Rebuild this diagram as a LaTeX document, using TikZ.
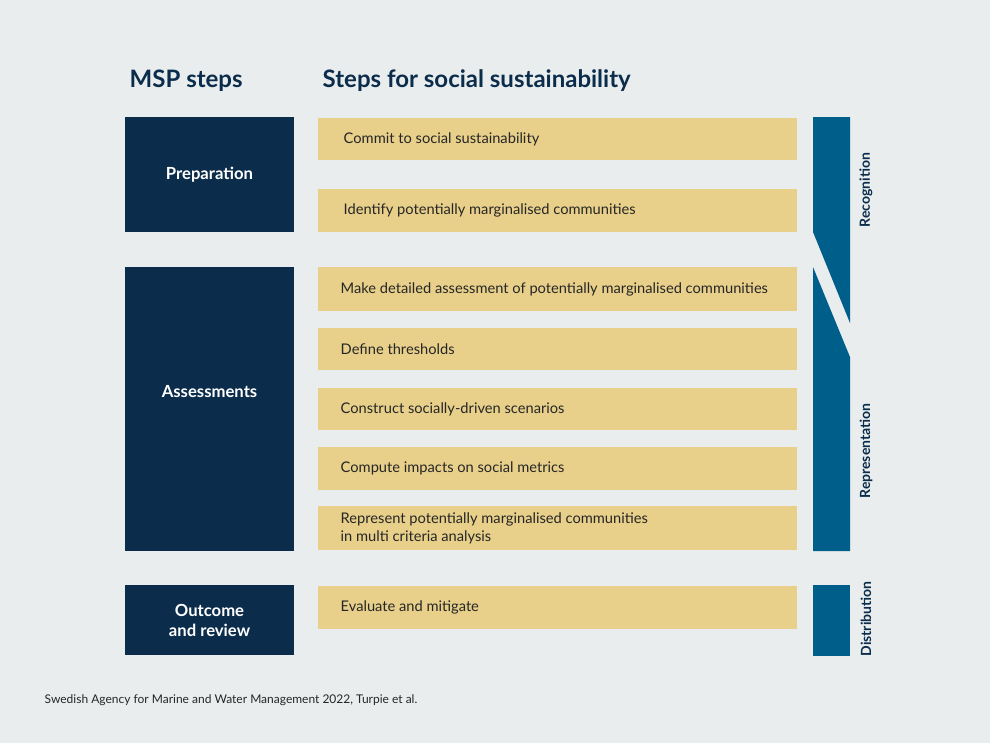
\documentclass[tikz,border=0pt]{standalone}
\usepackage{fontspec}
\setmainfont{Lato}
\definecolor{bg}{HTML}{E9EDEE}
\definecolor{navy}{HTML}{0B2D4B}
\definecolor{sand}{HTML}{E8D08A}
\definecolor{sea}{HTML}{005E8A}
\begin{document}
\begin{tikzpicture}[x=0.75pt,y=-0.75pt,
  msp/.style={fill=navy,draw=none},
  stepbox/.style={fill=sand,draw=none},
  pillar/.style={fill=sea,draw=none},
  steptxt/.style={anchor=west,align=left,font=\fontsize{11}{13.5}\selectfont,text=black!85},
  msptxt/.style={align=center,font=\bfseries\fontsize{12.5}{15}\selectfont,text=white},
  vtxt/.style={rotate=90,font=\bfseries\fontsize{10.5}{12}\selectfont,text=navy},
  head/.style={anchor=base west,font=\bfseries\fontsize{18}{20}\selectfont,text=navy}]
\fill[bg] (0,0) rectangle (990,743);
\useasboundingbox (0,0) rectangle (990,743);
\node[head] (h1) at (125,87) {MSP steps};
\node[head] (h2) at (318,87) {Steps for social sustainability};
% MSP boxes
\fill[msp] (125,117) rectangle (294,232);
\node[msptxt] (p) at (209.5,174.5) {Preparation};
\fill[msp] (125,267) rectangle (294,551);
\node[msptxt] (a) at (209.5,392) {Assessments};
\fill[msp] (125,585) rectangle (294,655);
\node[msptxt] (o) at (209.5,620) {Outcome\\and review};
% step boxes
\foreach \t/\b/\x/\txt [count=\i] in {
 118/160/339/{Commit to social sustainability},
 189/232/339/{Identify potentially marginalised communities},
 267/311/336/{Make detailed assessment of potentially marginalised communities},
 328/370/336/{Define thresholds},
 388/430/336/{Construct socially-driven scenarios},
 447/490/336/{Compute impacts on social metrics},
 506/550/336/{Represent potentially marginalised communities\\in multi criteria analysis},
 586/629/336/{Evaluate and mitigate}}{
  \fill[stepbox] (318,\t) rectangle (797,\b);
  \node[steptxt] (s\i) at (\x,{(\t+\b)/2}) {\txt};
}
% pillars
\fill[pillar] (813,117) -- (850,117) -- (850,323) -- (813,232) -- cycle;
\fill[pillar] (813,267) -- (850,357) -- (850,551) -- (813,551) -- cycle;
\fill[pillar] (813,585) rectangle (850,656);
\node[vtxt] (r1) at (866,190) {Recognition};
\node[vtxt] (r2) at (866,451) {Representation};
\node[vtxt] (r3) at (866,619) {Distribution};
\node[anchor=base west,font=\fontsize{9}{11}\selectfont,text=black!85] (f) at (40,703) {Swedish Agency for Marine and Water Management 2022, Turpie et al.};
\end{tikzpicture}
\end{document}
